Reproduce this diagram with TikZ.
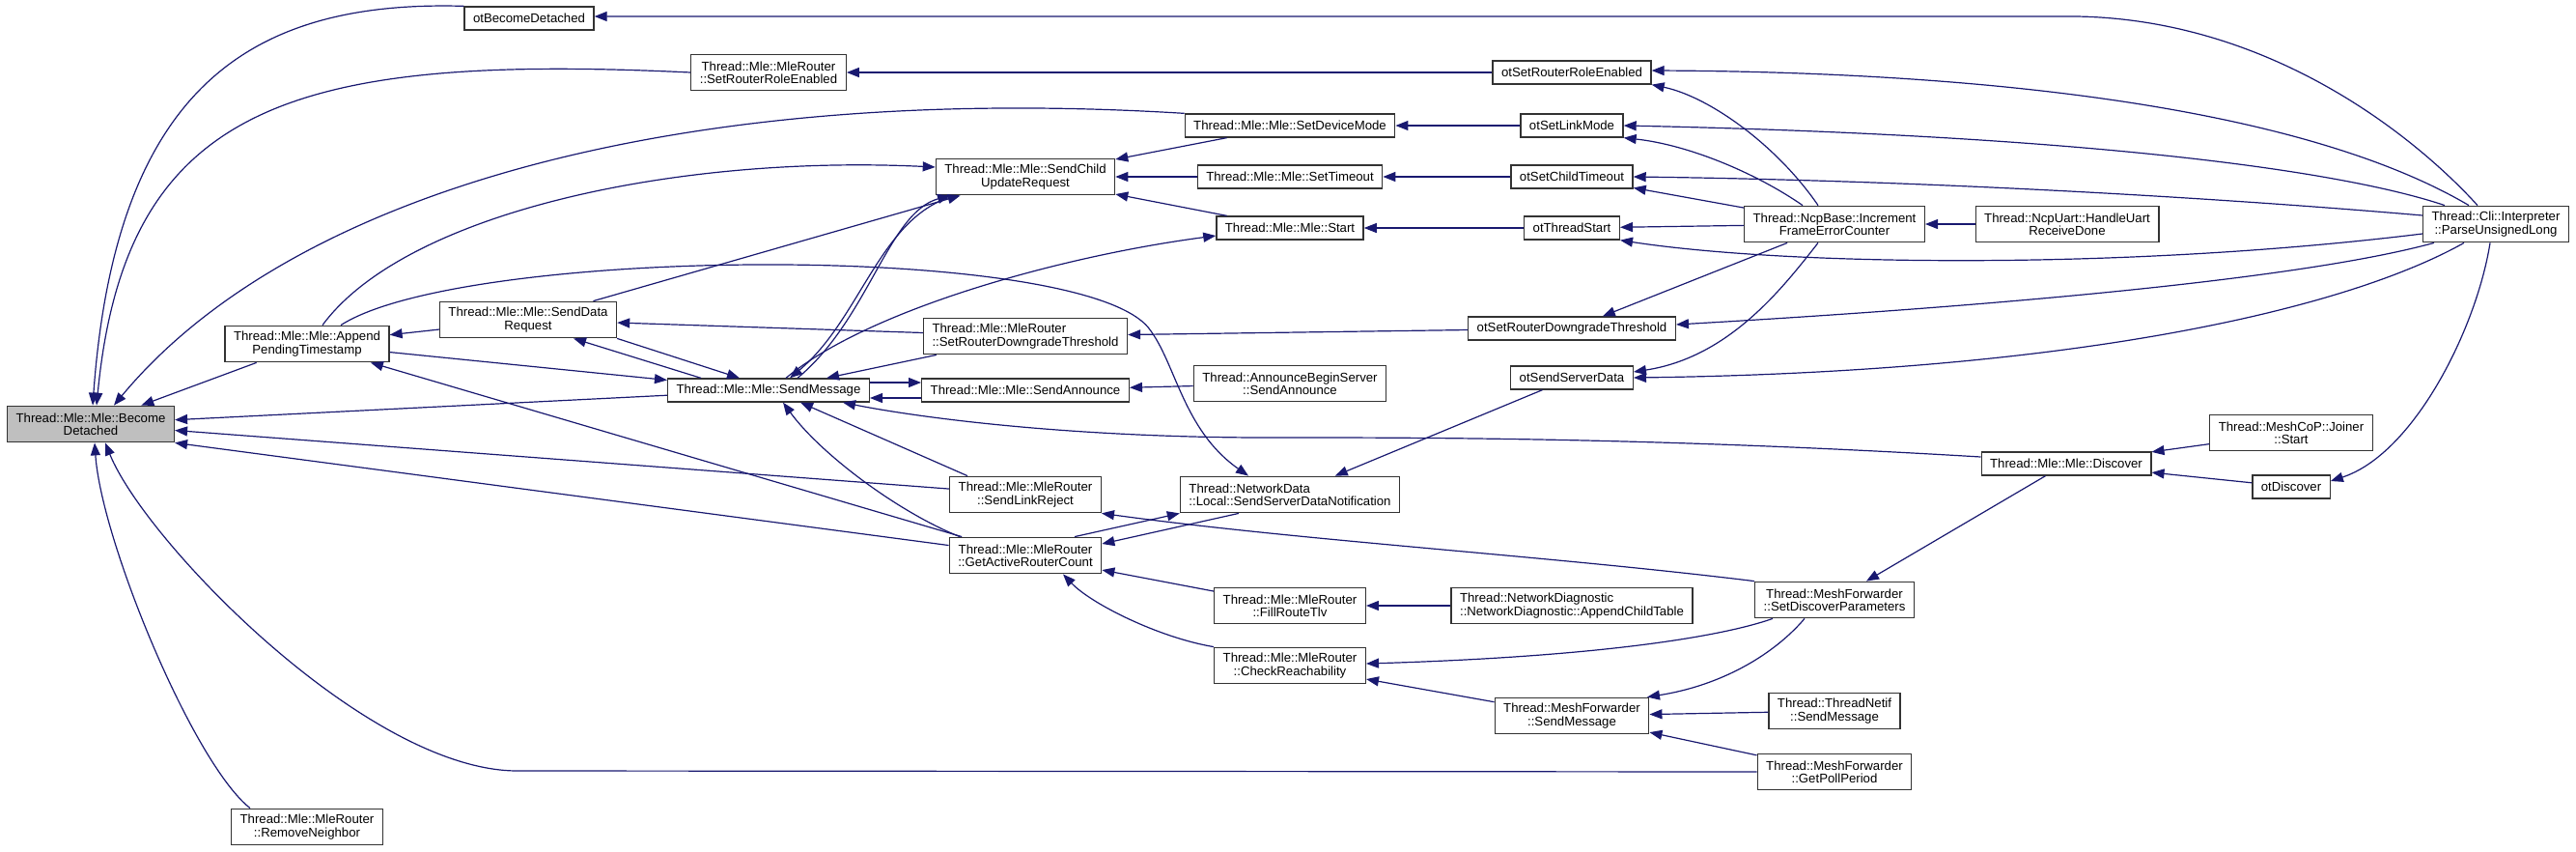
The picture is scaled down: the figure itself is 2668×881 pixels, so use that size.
\documentclass[tikz,border=0pt]{standalone}
\usepackage{fontspec}
\setmainfont{Liberation Sans}
\usetikzlibrary{arrows.meta}

\definecolor{edgeblue}{HTML}{191970}
\definecolor{rootgray}{HTML}{BFBFBF}

\tikzset{
    func/.style={draw=black!80, line width=1.3pt, fill=white, inner xsep=9pt, inner ysep=5pt,
        minimum height=24pt, align=center, font=\fontsize{13.2pt}{13.3pt}\selectfont},
    func2/.style={func, minimum height=37.5pt},
    rootfunc/.style={func2, fill=rootgray},
    call/.style={draw=edgeblue, line width=1.2pt, -{Triangle[length=13pt, width=10pt]}}
}

\begin{document}
\begin{tikzpicture}[x=1pt, y=-1pt]
    \useasboundingbox (0,0) rectangle (2668,881);

    % Place the root function
    \node[rootfunc] (become) at (94,439) {Thread::Mle::Mle::Become\\Detached};

    % Place the functions of the second and third column
    \node[func2] (append) at (318,356) {Thread::Mle::Mle::Append\\PendingTimestamp};
    \node[func2] (removen) at (318,856) {Thread::Mle::MleRouter\\::RemoveNeighbor};
    \node[func] (otbd) at (548,19) {otBecomeDetached};
    \node[func2] (sdr) at (547,331) {Thread::Mle::Mle::SendData\\Request};

    % Place the functions of the fourth and fifth column
    \node[func2] (srre) at (796,75) {Thread::Mle::MleRouter\\::SetRouterRoleEnabled};
    \node[func] (sendmsg) at (796,404) {Thread::Mle::Mle::SendMessage};
    \node[func2] (scur) at (1062,183) {Thread::Mle::Mle::SendChild\\UpdateRequest};
    \node[func2, align=left] (srdt) at (1062,348) {Thread::Mle::MleRouter\\::SetRouterDowngradeThreshold};
    \node[func] (sann) at (1062,404) {Thread::Mle::Mle::SendAnnounce};
    \node[func2] (slr) at (1062,512) {Thread::Mle::MleRouter\\::SendLinkReject};
    \node[func2] (garc) at (1062,575) {Thread::Mle::MleRouter\\::GetActiveRouterCount};

    % Place the functions of the sixth column
    \node[func] (sdm) at (1336,130) {Thread::Mle::Mle::SetDeviceMode};
    \node[func] (sto) at (1336,183) {Thread::Mle::Mle::SetTimeout};
    \node[func] (start) at (1336,236) {Thread::Mle::Mle::Start};
    \node[func2] (abs) at (1336,397) {Thread::AnnounceBeginServer\\::SendAnnounce};
    \node[func2, align=left] (ssdn) at (1336,512) {Thread::NetworkData\\::Local::SendServerDataNotification};
    \node[func2] (frt) at (1336,627) {Thread::Mle::MleRouter\\::FillRouteTlv};
    \node[func2] (creach) at (1336,689) {Thread::Mle::MleRouter\\::CheckReachability};

    % Place the functions of the seventh column
    \node[func] (otsrre) at (1628,75) {otSetRouterRoleEnabled};
    \node[func] (otslm) at (1628,130) {otSetLinkMode};
    \node[func] (otsct) at (1628,183) {otSetChildTimeout};
    \node[func] (otts) at (1628,236) {otThreadStart};
    \node[func] (otsrdt) at (1628,340) {otSetRouterDowngradeThreshold};
    \node[func] (otssd) at (1628,391) {otSendServerData};
    \node[func2, align=left] (act) at (1628,627) {Thread::NetworkDiagnostic\\::NetworkDiagnostic::AppendChildTable};
    \node[func2] (mfsm) at (1628,741) {Thread::MeshForwarder\\::SendMessage};

    % Place the functions on the right
    \node[func2] (ifec) at (1900,232) {Thread::NcpBase::Increment\\FrameErrorCounter};
    \node[func2] (sdp) at (1900,621) {Thread::MeshForwarder\\::SetDiscoverParameters};
    \node[func2] (tnsm) at (1900,736) {Thread::ThreadNetif\\::SendMessage};
    \node[func2] (gpp) at (1900,799) {Thread::MeshForwarder\\::GetPollPeriod};
    \node[func2] (uart) at (2141,232) {Thread::NcpUart::HandleUart\\ReceiveDone};
    \node[func] (discover) at (2140,480) {Thread::Mle::Mle::Discover};
    \node[func2] (joiner) at (2373,448) {Thread::MeshCoP::Joiner\\::Start};
    \node[func] (otdisc) at (2373,504) {otDiscover};
    \node[func2] (parse) at (2585,232) {Thread::Cli::Interpreter\\::ParseUnsignedLong};

    % Draw the calls into BecomeDetached
    \draw[call] (otbd.north west) .. controls (260,0) and (120,90) .. ([xshift=2pt]become.north);
    \draw[call] (srre.west) .. controls (300,55) and (130,110) .. ([xshift=6pt]become.north);
    \draw[call] (sdm.north west) .. controls (700,85) and (300,200) .. ([xshift=24pt]become.north);
    \draw[call] (append) -- (become);
    \draw[call] (sendmsg) -- (become);
    \draw[call] (slr) -- (become);
    \draw[call] (garc) -- (become.south east);
    \draw[call] ([xshift=20pt]removen.north west) .. controls (200,790) and (105,560) .. ([xshift=4pt]become.south);
    \draw[call] (gpp.west) -- (536,798) .. controls (380,798) and (150,560) .. ([xshift=15pt]become.south);

    % Draw the calls around AppendPendingTimestamp and SendDataRequest
    \draw[call] (sdr) -- (append);
    \draw[call] (garc) -- (append);
    \draw[call] (append) -- (sendmsg);
    \draw[call] ([xshift=16pt]append.north) .. controls (420,220) and (700,160) .. ([yshift=10pt]scur.west);
    \draw[call] ([xshift=35pt]append.north) .. controls (480,255) and (1120,250) .. (1190,340)
        .. controls (1218,376) and (1225,445) .. ([xshift=-43pt]ssdn.north);
    \draw[call] (srdt) -- (sdr);
    \draw[call] ([xshift=-70pt]sendmsg.north) -- ([xshift=47pt]sdr.south);
    \draw[call] (sdr.south east) -- ([xshift=-30pt]sendmsg.north);
    \draw[call] (sdr) -- (scur);

    % Draw the calls into SendMessage
    \draw[call] (srdt) -- (sendmsg);
    \draw[call] ([yshift=8pt]sendmsg.east) -- ([yshift=8pt]sann.west);
    \draw[call] ([yshift=-8pt]sann.west) -- ([yshift=-8pt]sendmsg.east);
    \draw[call] (abs) -- (sann);
    \draw[call] ([xshift=30pt]sendmsg.north) .. controls (900,330) and (920,220) .. ([xshift=-78pt]scur.south);
    \draw[call] ([xshift=-72pt]scur.south) .. controls (912,222) and (892,330) .. ([xshift=22pt]sendmsg.north);
    \draw[call] ([xshift=18pt]sendmsg.north) .. controls (900,320) and (1100,265) .. ([yshift=-8pt]start.west);
    \draw[call] ([xshift=-60pt]slr.north) -- ([xshift=33pt]sendmsg.south);
    \draw[call] ([xshift=-68pt]garc.north) .. controls (930,530) and (850,470) .. ([xshift=15pt]sendmsg.south);
    \draw[call] ([yshift=7pt]discover.west) .. controls (1700,452) and (1450,453) .. (1300,453)
        .. controls (1100,452) and (950,432) .. ([xshift=77pt]sendmsg.south);

    % Draw the calls into SendChildUpdateRequest
    \draw[call] (sdm) -- (scur);
    \draw[call] (sto) -- (scur);
    \draw[call] (start) -- (scur);

    % Draw the calls of the ot functions
    \draw[call] (otsrre) -- (srre);
    \draw[call] (otslm) -- (sdm);
    \draw[call] (otsct) -- (sto);
    \draw[call] (otts) -- (start);
    \draw[call] (otsrdt) -- (srdt);
    \draw[call] (otssd) -- (ssdn);

    % Draw the calls around the router functions
    \draw[call] ([xshift=51pt]garc.north) -- (ssdn.south west);
    \draw[call] ([xshift=-53pt]ssdn.south) -- ([yshift=12pt]garc.east);
    \draw[call] (sdp.north west) .. controls (1600,575) and (1350,560) .. (slr.south east);
    \draw[call] (frt) -- (garc);
    \draw[call] (creach.north west) .. controls (1200,660) and (1130,625) .. ([xshift=39pt]garc.south);
    \draw[call] (act) -- (frt);

    % Draw the calls of the mesh forwarder
    \draw[call] ([xshift=-64pt]sdp.south) .. controls (1780,660) and (1650,680) .. ([yshift=2pt]creach.east);
    \draw[call] ([xshift=-31pt]sdp.south) .. controls (1835,680) and (1780,710) .. ([xshift=78pt]mfsm.north);
    \draw[call] (mfsm) -- (creach);
    \draw[call] (tnsm) -- (mfsm);
    \draw[call] (gpp) -- (mfsm);
    \draw[call] (discover) -- (sdp);
    \draw[call] (joiner) -- (discover);
    \draw[call] (otdisc) -- (discover);

    % Draw the calls of IncrementFrameErrorCounter
    \draw[call] (uart) -- (ifec);
    \draw[call] ([xshift=-17pt]ifec.north) .. controls (1840,150) and (1770,100) .. (otsrre.south east);
    \draw[call] ([xshift=-33pt]ifec.north) .. controls (1820,180) and (1750,150) .. (otslm.south east);
    \draw[call] (ifec) -- (otsct);
    \draw[call] (ifec) -- (otts);
    \draw[call] (ifec) -- (otsrdt);
    \draw[call] ([xshift=-17pt]ifec.south) .. controls (1845,300) and (1790,370) .. ([yshift=6pt]otssd.east);

    % Draw the calls of ParseUnsignedLong
    \draw[call] ([xshift=-19pt]parse.north) .. controls (2500,140) and (2350,20) .. (2150,17) -- ([yshift=2pt]otbd.east);
    \draw[call] ([xshift=-28pt]parse.north) .. controls (2400,120) and (2100,75) .. ([yshift=2pt]otsrre.east);
    \draw[call] ([xshift=-53pt]parse.north) .. controls (2420,175) and (2150,140) .. (otslm.east);
    \draw[call] ([yshift=9pt]parse.west) .. controls (2300,205) and (2000,187) .. (otsct.east);
    \draw[call] ([yshift=-10pt]parse.west) .. controls (2200,280) and (1850,275) .. (otts.south east);
    \draw[call] ([xshift=-64pt]parse.south) .. controls (2380,290) and (2050,318) .. ([yshift=4pt]otsrdt.east);
    \draw[call] ([xshift=-33pt]parse.south) .. controls (2430,320) and (2150,385) .. (otssd.east);
    \draw[call] ([xshift=-6pt]parse.south) .. controls (2565,340) and (2500,470) .. ([yshift=6pt]otdisc.east);

\end{tikzpicture}
\end{document}
